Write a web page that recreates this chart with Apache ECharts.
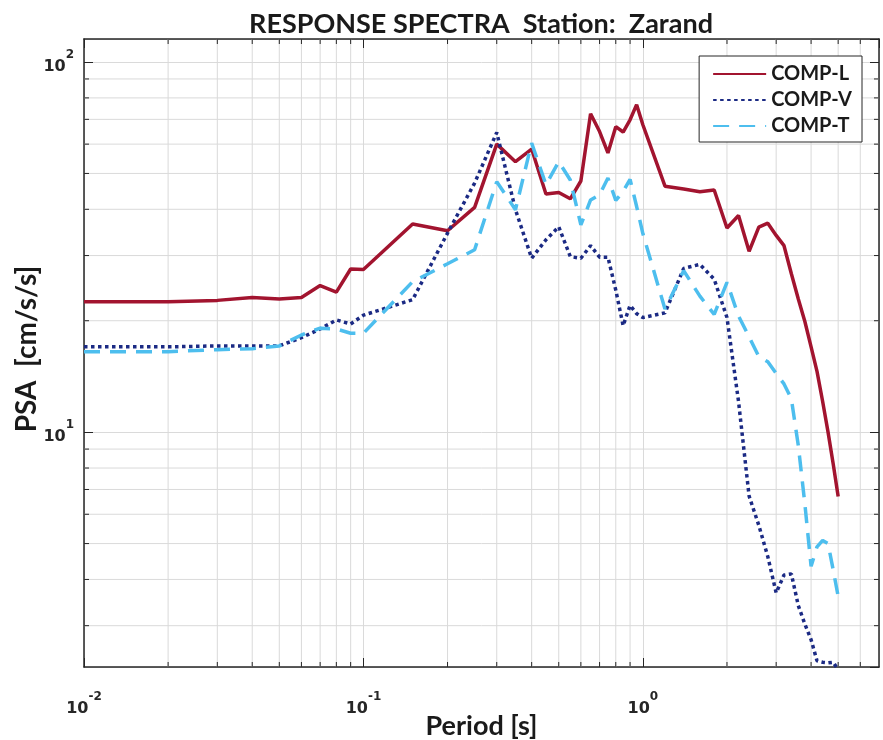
<!DOCTYPE html>
<html><head><meta charset="utf-8">
<script src="https://cdn.jsdelivr.net/npm/echarts@6/dist/echarts.min.js"></script>
<style>html,body{margin:0;padding:0;background:#fff}#c{width:883px;height:740px}</style>
</head><body><div id="c"></div>
<script>
// ---- data ----
const periods = [0.01, 0.02, 0.03, 0.04, 0.05, 0.06, 0.07, 0.08, 0.09, 0.1,
  0.15, 0.2, 0.25, 0.3, 0.35, 0.4, 0.45, 0.5, 0.55, 0.6, 0.65, 0.7, 0.75, 0.8, 0.85, 0.9, 0.95,
  1.0, 1.2, 1.4, 1.6, 1.8, 2.0, 2.2, 2.4, 2.6, 2.8, 3.0, 3.2, 3.4, 3.6, 3.8, 4.0, 4.2, 4.4, 4.6, 4.8, 5.0];
const compL = [22.5, 22.5, 22.7, 23.1, 22.9, 23.1, 24.9, 23.9, 27.6, 27.5,
  36.5, 35.0, 40.5, 60.0, 53.8, 58.2, 44.0, 44.4, 42.7, 47.7, 72.5, 64.9, 56.8, 66.9, 64.7, 69.8, 76.7,
  67.7, 46.2, 45.4, 44.6, 45.1, 35.6, 38.5, 30.8, 35.8, 36.7, 34.0, 31.9, 26.8, 22.9, 19.9, 17.0, 14.6, 12.1, 10.0, 8.2, 6.7];
const compV = [17.0, 17.0, 17.1, 17.1, 17.1, 18.0, 19.0, 20.1, 19.6, 20.7,
  22.8, 34.5, 47.1, 64.5, 39.9, 29.5, 33.1, 35.9, 29.8, 29.5, 31.9, 29.7, 29.7, 24.2, 19.4, 22.0, 20.9,
  20.4, 21.0, 27.7, 28.4, 25.9, 20.4, 12.1, 6.72, 5.6, 4.61, 3.68, 4.11, 4.14, 3.4, 3.03, 2.75, 2.41, 2.39, 2.38, 2.39, 2.28];
const compT = [16.5, 16.5, 16.7, 16.8, 17.1, 18.3, 19.1, 19.0, 18.5, 18.5,
  25.5, 28.5, 31.1, 47.5, 39.9, 60.4, 46.6, 53.8, 48.0, 36.3, 42.4, 43.8, 48.6, 42.3, 44.7, 48.2, 40.7,
  34.4, 21.5, 27.3, 23.3, 20.8, 25.4, 20.6, 18.1, 16.0, 15.5, 14.4, 13.5, 12.3, 9.2, 6.4, 4.34, 4.9, 5.1, 5.0, 4.24, 3.6];
const seriesNames = ['COMP-L', 'COMP-V', 'COMP-T'];
const xRange = [0.01, 7];
const yRange = [2.32, 115.4];
const xDecades = [-2, -1, 0];
const yDecades = [0, 1, 2];
const minorMultipliers = [2, 3, 4, 5, 6, 7, 8, 9];

// ---- helpers ----
function minorValues(decades, lo, hi) {
  const out = [];
  decades.forEach(d => minorMultipliers.forEach(k => {
    const v = k * Math.pow(10, d);
    if (v > lo && v < hi) out.push(v);
  }));
  return out;
}
const xMinor = minorValues(xDecades, xRange[0], xRange[1]);
const yMinor = minorValues(yDecades, yRange[0], yRange[1]);

const AX = '#262626';
const GRID = '#dadada';
function powLabel(v) {
  const e = Math.log10(v);
  const r = Math.round(e);
  if (Math.abs(e - r) > 1e-6) return '';
  return '{b|10}{s|' + r + '}';
}
const labelRich = {
  b: { fontFamily: 'DejaVu Sans', fontWeight: 'bold', fontSize: 16, color: AX, padding: [10, 0, 0, 0], verticalAlign: 'bottom' },
  s: { fontFamily: 'DejaVu Sans', fontWeight: 'bold', fontSize: 12, color: AX, verticalAlign: 'top' }
};
const nameFont = { fontFamily: 'Lato', fontWeight: 'bold', color: '#1a1a1a' };

function pairs(vals) { return periods.map((t, i) => [t, vals[i]]); }

const chart = echarts.init(document.getElementById('c'), null, { renderer: 'canvas' });
chart.setOption({
  animation: false,
  backgroundColor: '#fff',
  title: {
    text: 'RESPONSE SPECTRA  Station:  Zarand',
    left: 476, top: 6, textAlign: 'center',
    textStyle: Object.assign({ fontSize: 27 }, nameFont)
  },
  grid: { left: 84, right: 4, top: 39, bottom: 73, containLabel: false, outerBoundsMode: 'none' },
  legend: {
    data: seriesNames,
    orient: 'vertical', right: 21, top: 56,
    itemWidth: 53, itemHeight: 14, itemGap: 6,
    padding: [8, 10, 6, 13],
    borderColor: AX, borderWidth: 1, backgroundColor: '#fff',
    itemStyle: { opacity: 0 },
    textStyle: { fontFamily: 'Lato', fontWeight: 'bold', fontSize: 20, color: '#1a1a1a' }
  },
  xAxis: [{
    type: 'log', logBase: 10, min: xRange[0], max: xRange[1], position: 'bottom',
    axisLine: { show: true, onZero: false, lineStyle: { color: AX, width: 1.5 } },
    axisTick: { show: true, inside: true, length: 9, lineStyle: { color: AX, width: 1 } },
    axisLabel: { formatter: powLabel, rich: labelRich, margin: 24, showMaxLabel: false },
    splitLine: { show: true, lineStyle: { color: GRID, width: 1 } },
    minorTick: { show: false }, minorSplitLine: { show: false },
    name: 'Period [s]', nameLocation: 'middle', nameGap: 46, nameMoveOverlap: false,
    nameTextStyle: Object.assign({ fontSize: 27 }, nameFont)
  }, {
    type: 'log', logBase: 10, min: xRange[0], max: xRange[1], position: 'top',
    axisLine: { show: true, onZero: false, lineStyle: { color: AX, width: 1.5 } },
    axisTick: { show: true, inside: true, length: 9, lineStyle: { color: AX, width: 1 } },
    axisLabel: { show: false }, splitLine: { show: false }
  }],
  yAxis: [{
    type: 'log', logBase: 10, min: yRange[0], max: yRange[1], position: 'left',
    axisLine: { show: true, onZero: false, lineStyle: { color: AX, width: 1.5 } },
    axisTick: { show: true, inside: true, length: 9, lineStyle: { color: AX, width: 1 } },
    axisLabel: { formatter: powLabel, rich: labelRich, margin: 10, showMinLabel: false, showMaxLabel: false },
    splitLine: { show: true, lineStyle: { color: GRID, width: 1 } },
    name: 'PSA  [cm/s/s]', nameLocation: 'middle', nameGap: 43, nameRotate: 90, nameMoveOverlap: false,
    nameTextStyle: Object.assign({ fontSize: 28, padding: [0, 0, 0, 8] }, nameFont)
  }, {
    type: 'log', logBase: 10, min: yRange[0], max: yRange[1], position: 'right',
    axisLine: { show: true, onZero: false, lineStyle: { color: AX, width: 1.5 } },
    axisTick: { show: true, inside: true, length: 9, lineStyle: { color: AX, width: 1 } },
    axisLabel: { show: false }, splitLine: { show: false }
  }],
  series: [{
    type: 'custom', silent: true, z: 1, xAxisIndex: 0, yAxisIndex: 0,
    data: xMinor.map(v => [v, 10]),
    renderItem: function (params, api) {
      const cs = params.coordSys;
      const px = api.coord([api.value(0), 10])[0];
      const b = cs.y + cs.height;
      return { type: 'group', children: [
        { type: 'line', shape: { x1: px, y1: cs.y, x2: px, y2: b }, style: { stroke: GRID, lineWidth: 1 } },
        { type: 'line', shape: { x1: px, y1: b, x2: px, y2: b - 5 }, style: { stroke: AX, lineWidth: 1 } },
        { type: 'line', shape: { x1: px, y1: cs.y, x2: px, y2: cs.y + 5 }, style: { stroke: AX, lineWidth: 1 } }
      ] };
    }
  }, {
    type: 'custom', silent: true, z: 1, xAxisIndex: 0, yAxisIndex: 0,
    data: yMinor.map(v => [1, v]),
    renderItem: function (params, api) {
      const cs = params.coordSys;
      const py = api.coord([1, api.value(1)])[1];
      const r = cs.x + cs.width;
      return { type: 'group', children: [
        { type: 'line', shape: { x1: cs.x, y1: py, x2: r, y2: py }, style: { stroke: GRID, lineWidth: 1 } },
        { type: 'line', shape: { x1: cs.x, y1: py, x2: cs.x + 5, y2: py }, style: { stroke: AX, lineWidth: 1 } },
        { type: 'line', shape: { x1: r, y1: py, x2: r - 5, y2: py }, style: { stroke: AX, lineWidth: 1 } }
      ] };
    }
  }, {
    name: 'COMP-L', type: 'line', data: pairs(compL), symbol: 'none', z: 3,
    lineStyle: { color: '#a2142f', width: 3.5 }, itemStyle: { color: '#a2142f' }
  }, {
    name: 'COMP-V', type: 'line', data: pairs(compV), symbol: 'none', z: 3,
    lineStyle: { color: '#1b2a84', width: 3.5, type: [3.5, 3.5] }, itemStyle: { color: '#1b2a84' }
  }, {
    name: 'COMP-T', type: 'line', data: pairs(compT), symbol: 'none', z: 3,
    lineStyle: { color: '#4dbeee', width: 3.5, type: [16, 10] }, itemStyle: { color: '#4dbeee' }
  }]
});
</script></body></html>
